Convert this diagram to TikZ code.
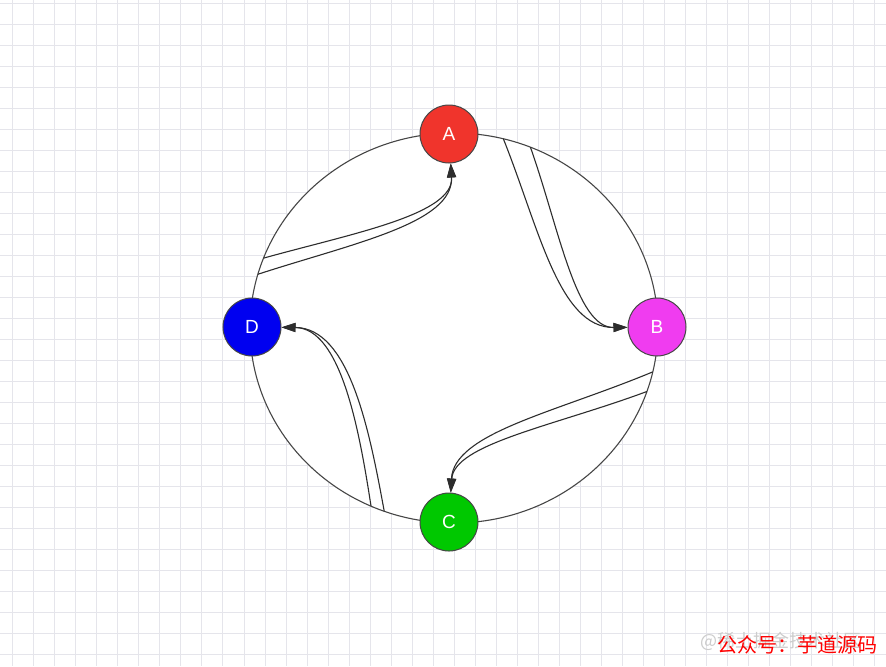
\documentclass[tikz,border=0pt]{standalone}
\usepackage{fontspec}
\newfontfamily\labelfont{Liberation Sans}
\newfontfamily\cjkfont{Noto Sans CJK SC}
\usetikzlibrary{arrows.meta}

\definecolor{gridgray}{RGB}{229,229,235}
\definecolor{ringgray}{RGB}{70,70,70}
\definecolor{flowgray}{RGB}{45,45,45}
\definecolor{peerred}{RGB}{240,52,44}
\definecolor{peerpink}{RGB}{240,60,240}
\definecolor{peergreen}{RGB}{0,200,0}
\definecolor{peerblue}{RGB}{0,0,240}

\begin{document}
\begin{tikzpicture}[x=0.5pt, y=0.5pt,
    peer/.style={circle, draw=ringgray, line width=0.5pt, minimum size=29pt, inner sep=0pt,
                 text=white, font=\labelfont\fontsize{9.5}{9.5}\selectfont},
    ring/.style={draw=ringgray, line width=0.55pt, fill=white},
    flow/.style={draw=flowgray, line width=0.55pt, -{Triangle[length=7pt,width=4.5pt]}},
    gridline/.style={draw=gridgray, line width=0.5pt}]
    \useasboundingbox[fill=white] (-454,-338) rectangle (432,328);
    % background grid
    \foreach \k in {0,...,41}
        \draw[gridline] ({-441+21*\k},-338) -- ({-441+21*\k},328);
    \foreach \k in {0,...,31}
        \draw[gridline] (-454,{325-21*\k}) -- (432,{325-21*\k});

    \coordinate (O) at (0,0);
    \draw[ring] (O) ellipse [x radius=204, y radius=195];

    \node[peer, fill=peerred] (A) at (-5,194) {A};
    \node[peer, fill=peerpink] (B) at (203,1) {B};
    \node[peer, fill=peergreen] (C) at (-5,-194) {C};
    \node[peer, fill=peerblue] (D) at (-202,1) {D};

    % where the flows leave the ring
    \foreach \s/\p/\q in {A/76/68, B/-13/-19, C/-110/-114, D/164/159} {
        \coordinate (\s1) at (\p:204 and 195);
        \coordinate (\s2) at (\q:204 and 195);
    }
    \foreach \s/\t/\r/\w in {A/B/0/20, B/C/-90/13, C/D/180/10, D/A/90/10} {
        \begin{scope}[rotate=\r]
            \draw[flow] (\s1) .. controls (85,100) and (105,0) .. (\t);
            \draw[flow] (\s2) .. controls ({85+\w},100) and ({105+0.85*\w},0) .. (\t);
        \end{scope}
    }

    \node[anchor=west, inner sep=0pt, text=black!20, font=\cjkfont\fontsize{9}{9}\selectfont]
        (mark) at (246,-313) {@稀土掘金技术社区};
    \node[anchor=west, inner sep=0pt, text=red, font=\cjkfont\fontsize{10}{10}\selectfont]
        (sign) at (263,-317) {公众号：芋道源码};
\end{tikzpicture}
\end{document}
